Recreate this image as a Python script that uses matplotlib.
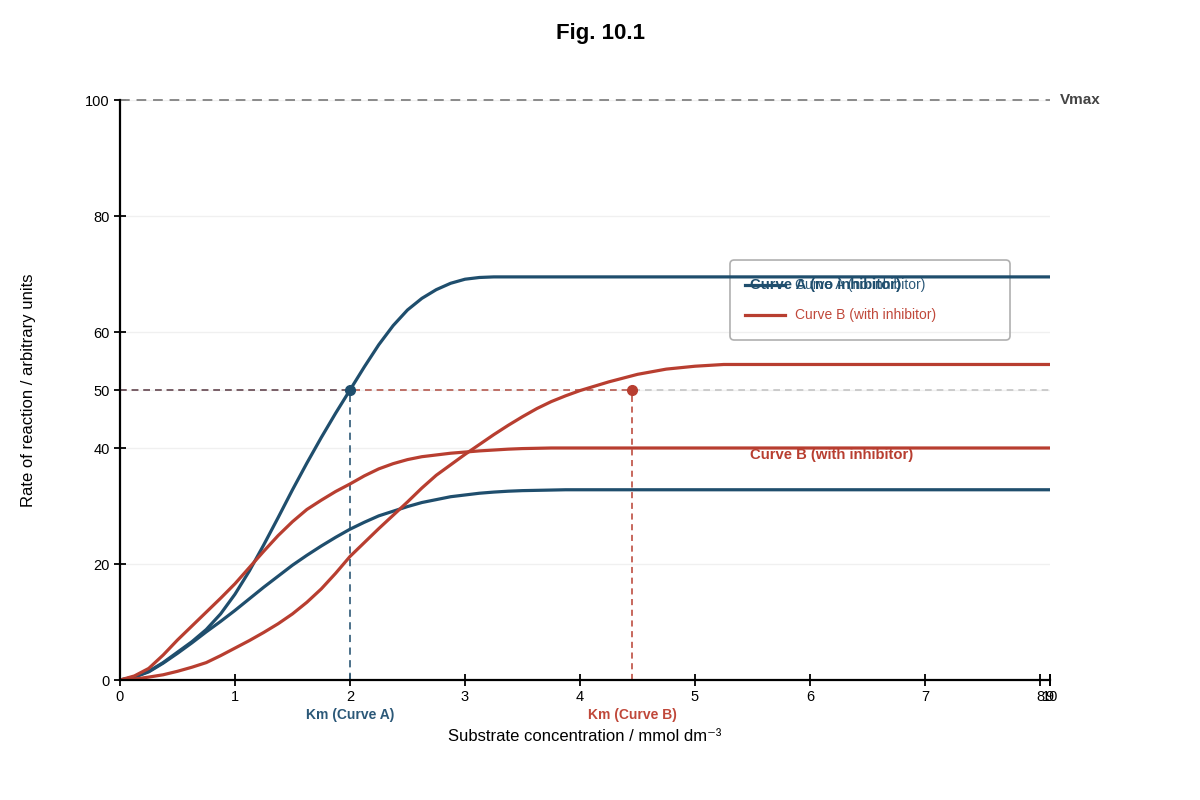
import matplotlib
matplotlib.use('Agg')
import matplotlib.pyplot as plt
import matplotlib.transforms as mtransforms
from matplotlib.patches import FancyBboxPatch
from matplotlib.lines import Line2D

plt.rcParams['font.family'] = ['Liberation Sans', 'DejaVu Sans']

# ---------------- data ----------------
substrate = [0, 0.125, 0.25, 0.375, 0.5, 0.625, 0.75, 0.875, 1.0, 1.125, 1.25, 1.375,
             1.5, 1.625, 1.75, 1.875, 2.0, 2.125, 2.25, 2.375, 2.5, 2.625, 2.75, 2.875,
             3.0, 3.125, 3.25, 3.375, 3.5, 3.625, 3.75, 3.875, 4.0, 4.25, 4.5, 4.75,
             5.0, 5.25, 5.5, 6.0, 7.0, 8.09]
curve_a_high = [0, 0.5, 1.5, 3.0, 4.8, 6.6, 8.7, 11.4, 14.8, 18.8, 23.3, 28.0,
                32.8, 37.4, 41.8, 46.0, 50.0, 54.0, 57.8, 61.1, 63.8, 65.8, 67.3, 68.4,
                69.1, 69.4, 69.5, 69.5, 69.5, 69.5, 69.5, 69.5, 69.5, 69.5, 69.5, 69.5,
                69.5, 69.5, 69.5, 69.5, 69.5, 69.5]
curve_a_low = [0, 0.5, 1.4, 2.9, 4.6, 6.4, 8.3, 10.1, 12.0, 14.0, 16.0, 17.9,
               19.8, 21.5, 23.1, 24.6, 26.0, 27.2, 28.3, 29.1, 29.9, 30.6, 31.1, 31.6,
               31.9, 32.2, 32.4, 32.55, 32.65, 32.7, 32.75, 32.8, 32.8, 32.8, 32.8, 32.8,
               32.8, 32.8, 32.8, 32.8, 32.8, 32.8]
curve_b_low = [0, 0.7, 2.0, 4.3, 6.9, 9.3, 11.7, 14.1, 16.6, 19.4, 22.2, 24.9,
               27.3, 29.4, 31.0, 32.5, 33.8, 35.2, 36.4, 37.3, 38.0, 38.5, 38.8, 39.1,
               39.3, 39.5, 39.65, 39.8, 39.9, 39.95, 40.0, 40.0, 40.0, 40.0, 40.0, 40.0,
               40.0, 40.0, 40.0, 40.0, 40.0, 40.0]
curve_b_high = [0, 0.15, 0.5, 0.9, 1.5, 2.2, 3.0, 4.2, 5.5, 6.8, 8.2, 9.7,
                11.4, 13.4, 15.7, 18.4, 21.3, 23.7, 26.1, 28.4, 30.7, 33.1, 35.3, 37.1,
                38.9, 40.6, 42.3, 43.9, 45.4, 46.8, 48.0, 49.0, 49.9, 51.4, 52.7, 53.6,
                54.1, 54.4, 54.4, 54.4, 54.4, 54.4]

km_a = 2.0
km_b = 4.455
half_vmax = 50
vmax = 100
x_max = 8.087
y_ticks = [0, 20, 40, 50, 60, 80, 100]
x_ticks = [0, 1, 2, 3, 4, 5, 6, 7, 8, 8.083, 8.087]
x_tick_labels = ['0', '1', '2', '3', '4', '5', '6', '7', '8', '9', '10']

BLUE = '#1f4e6d'
RED = '#b83e30'

# ---------------- figure ----------------
fig = plt.figure(figsize=(12, 8), dpi=100)
ax = fig.add_axes([0.1, 0.15, 0.775, 0.725])
ax.set_xlim(0, x_max)
ax.set_ylim(0, vmax)

ax.set_yticks(y_ticks)
ax.set_xticks(x_ticks)
ax.set_xticklabels(x_tick_labels)
ax.yaxis.grid(True, color='#f0f0f0', lw=1.0, zorder=0)
ax.set_axisbelow(True)

for s in ['top', 'right']:
    ax.spines[s].set_visible(False)
for s in ['left', 'bottom']:
    ax.spines[s].set_linewidth(1.6)
    ax.spines[s].set_color('black')
    ax.spines[s].set_zorder(6)
ax.tick_params(direction='inout', length=9, width=1.3, labelsize=10.5, pad=3,
               colors='black')

# reference lines
ax.axhline(vmax, color='#8a8a8a', lw=1.4, ls=(0, (5, 3.5)), clip_on=False, zorder=2)
ax.axhline(half_vmax, color='#c4c4c4', lw=1.2, ls=(0, (4, 3)), zorder=2)
ax.plot([0, km_b], [half_vmax, half_vmax], color=RED, lw=1.2, ls=(0, (4, 3)), alpha=0.75, zorder=2)
ax.plot([0, km_a], [half_vmax, half_vmax], color=BLUE, lw=1.2, ls=(0, (4, 3)), alpha=0.5, zorder=2)
ax.plot([km_a, km_a], [0, half_vmax], color='#3e6681', lw=1.3, ls=(0, (4, 3)), zorder=2)
ax.plot([km_b, km_b], [0, half_vmax], color=RED, lw=1.1, ls=(0, (4, 3)), zorder=2)

# curves
for ys, col in [(curve_a_high, BLUE), (curve_a_low, BLUE),
                (curve_b_low, RED), (curve_b_high, RED)]:
    ax.plot(substrate, ys, color=col, lw=2.3, zorder=4,
            solid_joinstyle='round', solid_capstyle='round')

# Km points
ax.plot([km_a], [half_vmax], 'o', color=BLUE, ms=7, zorder=5)
ax.plot([km_b], [half_vmax], 'o', color=RED, ms=7, zorder=5)

# annotations
trans = mtransforms.blended_transform_factory(ax.transData, ax.transAxes)
ax.text(km_a, -0.060, 'Km (Curve A)', transform=trans, ha='center', va='center',
        fontsize=10, fontweight='bold', color='#2b5878')
ax.text(km_b, -0.060, 'Km (Curve B)', transform=trans, ha='center', va='center',
        fontsize=10, fontweight='bold', color='#c0483a')
ax.text(8.174, vmax, 'Vmax', ha='left', va='center', fontsize=11, fontweight='bold',
        color='#444444', clip_on=False)
ax.text(5.478, 68.1, 'Curve A (no inhibitor)', ha='left', va='center', fontsize=10.7,
        fontweight='bold', color=BLUE, zorder=7)
ax.text(5.478, 38.8, 'Curve B (with inhibitor)', ha='left', va='center', fontsize=10.7,
        fontweight='bold', color=RED, zorder=7)

# legend (drawn as a box with entries)
box = FancyBboxPatch((0.6559, 0.5862), 0.3011, 0.1379, transform=ax.transAxes,
                     boxstyle='round,pad=0,rounding_size=0.0045', mutation_aspect=930 / 580,
                     facecolor='none', edgecolor='#b0b0b0', lw=1.2, zorder=3)
ax.add_patch(box)
ax.add_line(Line2D([0.6720, 0.7151], [0.681, 0.681], transform=ax.transAxes,
                   color=BLUE, lw=2.3, zorder=6))
ax.add_line(Line2D([0.6720, 0.7151], [0.6293, 0.6293], transform=ax.transAxes,
                   color=RED, lw=2.3, zorder=6))
ax.text(0.7258, 0.681, 'Curve A (no inhibitor)', transform=ax.transAxes, ha='left',
        va='center', fontsize=10, color='#2b5878', zorder=6)
ax.text(0.7258, 0.6293, 'Curve B (with inhibitor)', transform=ax.transAxes, ha='left',
        va='center', fontsize=10, color='#c0483a', zorder=6)

# axis labels and title
ax.set_xlabel('Substrate concentration / mmol dm\u207b\u00b3', fontsize=12)
ax.xaxis.set_label_coords(0.5, -0.084)
ax.set_ylabel('Rate of reaction / arbitrary units', fontsize=12)
ax.yaxis.set_label_coords(-0.0905, 0.5)
fig.text(0.5, 1 - 33 / 800, 'Fig. 10.1', ha='center', va='center', fontsize=16,
         fontweight='bold')

fig.savefig('out.png', dpi=100)
